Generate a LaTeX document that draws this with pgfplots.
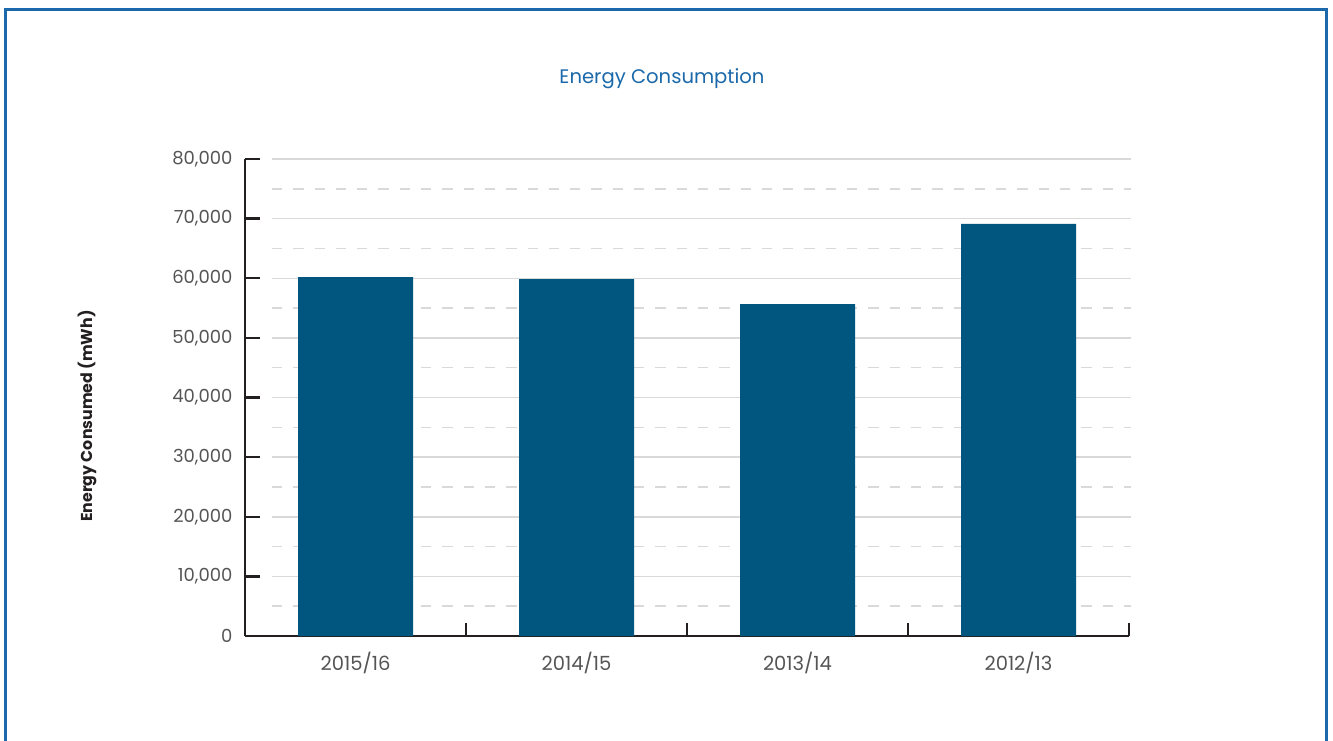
\documentclass[border=0pt]{standalone}
\usepackage{fontspec}
\setmainfont{Poppins}
\usepackage{pgfplots}
\pgfplotsset{compat=1.18}
\definecolor{barblue}{HTML}{01567F}
\definecolor{frameblue}{HTML}{1B69AA}
\definecolor{axisblack}{HTML}{231F20}
\definecolor{ticktext}{HTML}{555555}
\definecolor{gridgray}{HTML}{D9D9D9}
\begin{document}
\begin{tikzpicture}
\useasboundingbox (0pt,0pt) rectangle (1333pt,740pt);
\draw[frameblue, line width=2.8pt, line join=miter] (5.4pt,-5pt) -- (5.4pt,730.3pt) -- (1326.6pt,730.3pt) -- (1326.6pt,-5pt);
\node[text=frameblue, font=\fontsize{19.6}{22}\selectfont] at (662pt,661pt) {Energy Consumption};
\node[rotate=90, text=axisblack, font=\fontsize{15.8}{18}\selectfont\bfseries] at (87pt,324pt) {Energy Consumed (mWh)};
\begin{axis}[
  at={(245pt,104pt)}, anchor=south west, scale only axis,
  width=884pt, height=477pt,
  xmin=-0.5, xmax=3.5, ymin=0, ymax=80000,
  axis lines*=left,
  axis line style={axisblack, line width=2.4pt},
  tick style={axisblack, line width=2.4pt},
  tick align=inside,
  ytick={0,10000,...,80000},
  ytick style={/pgfplots/major tick length=15pt},
  xtick={0.5,1.5,2.5,3.5},
  xticklabels={},
  xtick style={/pgfplots/major tick length=13pt},
  extra x ticks={0,1,2,3},
  extra x tick labels={2015/16,2014/15,2013/14,2012/13},
  extra x tick style={/pgfplots/major tick length=0pt},
  xticklabel style={text=ticktext, font=\fontsize{19.5}{22}\selectfont, yshift=-13pt},
  yticklabel style={text=ticktext, font=\fontsize{18}{21}\selectfont, xshift=-9pt},
  /pgf/number format/1000 sep={,},
  /pgf/number format/assume math mode=true,
  scaled y ticks=false,
  clip=false,
]
\pgfplotsinvokeforeach{10000,20000,30000,40000,50000,60000,70000,80000}{
  \draw[gridgray, line width=1.5pt] (axis cs:-0.378,#1) -- (axis cs:3.509,#1);
}
\pgfplotsinvokeforeach{5000,15000,25000,35000,45000,55000,65000,75000}{
  \draw[gridgray, line width=1.5pt, dash pattern=on 10.3pt off 11pt] (axis cs:-0.378,#1) -- (axis cs:3.509,#1);
}
\addplot[ybar, bar width=115pt, fill=barblue, draw=none] coordinates {(0,60200) (1,59850) (2,55650) (3,69100)};
\end{axis}
\end{tikzpicture}
\end{document}
